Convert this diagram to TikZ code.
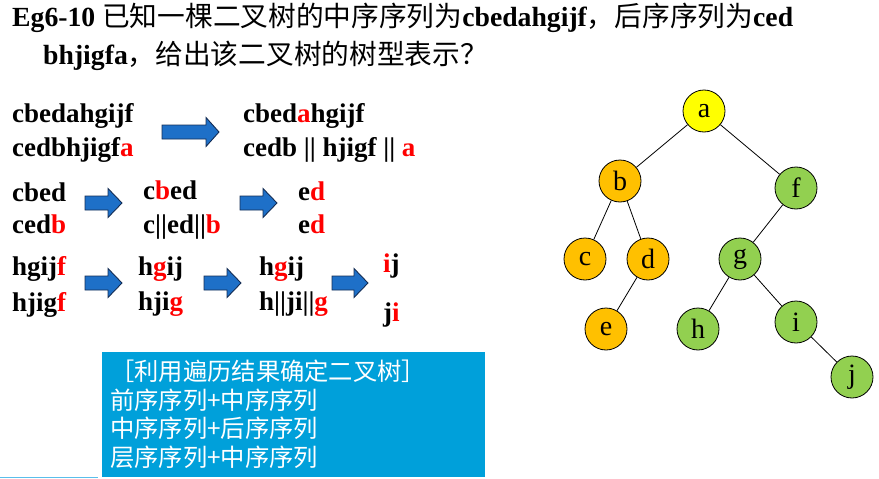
\documentclass[tikz,border=0pt]{standalone}
\usepackage{fontspec}
\setmainfont{Liberation Serif}
\newfontfamily\cjk{Noto Sans CJK SC}
\definecolor{redtxt}{RGB}{255,0,0}
\definecolor{ayellow}{RGB}{255,255,0}
\definecolor{borange}{RGB}{255,192,0}
\definecolor{fgreen}{RGB}{146,208,80}
\definecolor{boxblue}{RGB}{0,160,218}
\definecolor{arrfill}{RGB}{30,112,200}
\definecolor{arrdraw}{RGB}{20,45,85}
\definecolor{lineblue}{RGB}{90,190,235}
\newcommand{\R}[1]{\textcolor{redtxt}{#1}}
\newcommand{\blockarrow}[4]{%
  \draw[barrow] (#1,#3-7) -- (#4,#3-7) -- (#4,#3-14.5) -- (#2,#3) -- (#4,#3+14.5) -- (#4,#3+7) -- (#1,#3+7) -- cycle;}
\tikzset{
  title/.style={anchor=base west, inner sep=0pt, font=\fontsize{27.7}{30}\selectfont\bfseries},
  seq/.style={anchor=base west, inner sep=0pt, font=\fontsize{27}{30}\selectfont\bfseries},
  boxtxt/.style={anchor=base west, inner sep=0pt, text=white, font=\fontsize{24.3}{28}\selectfont\cjk},
  barrow/.style={fill=arrfill, draw=arrdraw, line width=0.9pt, line join=miter},
  tnode/.style={circle, draw=black, line width=0.8pt, minimum size=42pt, inner sep=0pt, font=\fontsize{28}{30}\selectfont},
  tedge/.style={draw=black, line width=0.8pt}
}
\begin{document}
\begin{tikzpicture}[x=1pt,y=-1pt]
\useasboundingbox (0,0) rectangle (879,479);
% title
\node[title] (t1) at (12,26) {Eg6-10 {\cjk\mdseries 已知一棵二叉树的中序序列为}cbedahgijf{\cjk\mdseries ，后序序列为}ced};
\node[title] (t2) at (43,64) {bhjigfa{\cjk\mdseries ，给出该二叉树的树型表示？}};
% row 1
\node[seq] (r1a) at (12,122) {cbedahgijf};
\node[seq] (r1b) at (12,156) {cedbhjigf\R{a}};
\node[seq] (r1c) at (243,122) {cbed\R{a}hgijf};
\node[seq] (r1d) at (243,156) {cedb || hjigf || \R{a}};
\blockarrow{162}{219}{132}{206}
% row 2
\node[seq] (r2a) at (12,201) {cbed};
\node[seq] (r2b) at (12,233) {ced\R{b}};
\node[seq] (r2c) at (143,199) {c\R{b}ed};
\node[seq] (r2d) at (143,233) {c||ed||\R{b}};
\node[seq] (r2e) at (298,200) {e\R{d}};
\node[seq] (r2f) at (298,233) {e\R{d}};
\blockarrow{85}{122}{203}{108}
\blockarrow{240}{277}{203}{263}
% row 3
\node[seq] (r3a) at (12,275) {hgij\R{f}};
\node[seq] (r3b) at (12,311) {hjig\R{f}};
\node[seq] (r3c) at (138,275) {h\R{g}ij};
\node[seq] (r3d) at (138,310) {hji\R{g}};
\node[seq] (r3e) at (259,275) {h\R{g}ij};
\node[seq] (r3f) at (259,310) {h||ji||\R{g}};
\node[seq] (r3g) at (383,272) {\R{i}j};
\node[seq] (r3h) at (383,321) {j\R{i}};
\blockarrow{85}{122}{283}{108}
\blockarrow{204}{241}{283}{227}
\blockarrow{332}{368}{283}{354}
% blue box
\fill[boxblue] (102,352) rectangle (485,477);
\node[boxtxt] (b1) at (110,380) {［利用遍历结果确定二叉树］};
\node[boxtxt] (b2) at (110,409) {前序序列+中序序列};
\node[boxtxt] (b3) at (110,437) {中序序列+后序序列};
\node[boxtxt] (b4) at (110,466) {层序序列+中序序列};
\draw[lineblue, line width=1pt] (0,477.5) -- (98,477.5);
% tree
\node[tnode, fill=ayellow] (a) at (704,111) {a};
\node[tnode, fill=borange] (b) at (620,181) {b};
\node[tnode, fill=fgreen] (f) at (796,188) {f};
\node[tnode, fill=borange] (c) at (585,259) {c};
\node[tnode, fill=borange] (d) at (648,259) {d};
\node[tnode, fill=fgreen] (g) at (740,259) {g};
\node[tnode, fill=borange] (e) at (606,329) {e};
\node[tnode, fill=fgreen] (h) at (698,329) {h};
\node[tnode, fill=fgreen] (i) at (796,322) {i};
\node[tnode, fill=fgreen] (j) at (852,377) {j};
\draw[tedge] (a) -- (b);
\draw[tedge] (a) -- (f);
\draw[tedge] (b) -- (c);
\draw[tedge] (b) -- (d);
\draw[tedge] (d) -- (e);
\draw[tedge] (f) -- (g);
\draw[tedge] (g) -- (h);
\draw[tedge] (g) -- (i);
\draw[tedge] (i) -- (j);
\end{tikzpicture}
\end{document}
